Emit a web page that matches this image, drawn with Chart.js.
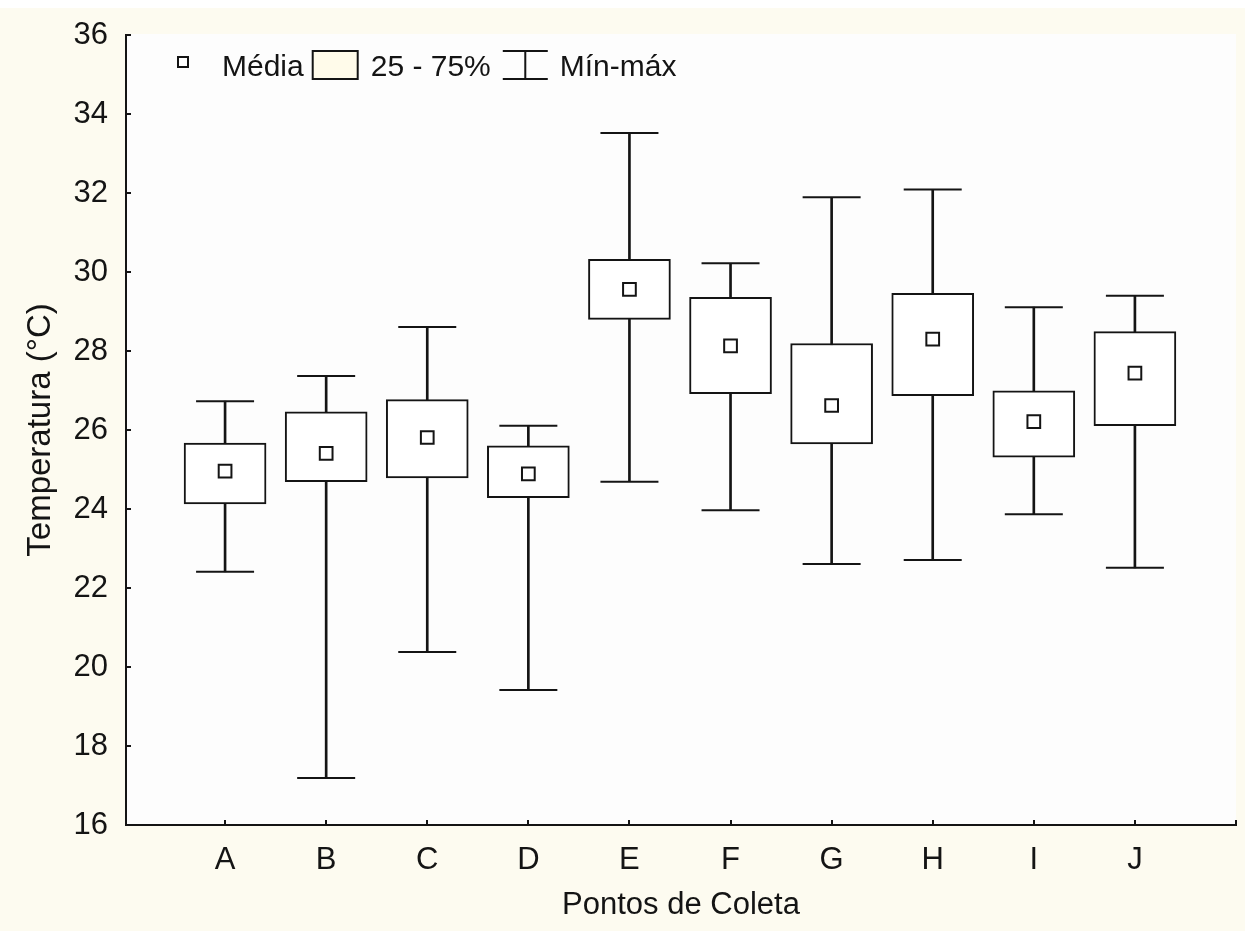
<!DOCTYPE html>
<html><head><meta charset="utf-8">
<script src="https://cdn.jsdelivr.net/npm/chart.js@4.4.1/dist/chart.umd.min.js"></script>
<style>html,body{margin:0;padding:0;background:#fdfbf0;}canvas{display:block;}</style>
</head><body>
<canvas id="c" width="1245" height="931"></canvas>
<script>
// ---- data ----
const categories = ['A','B','C','D','E','F','G','H','I','J'];
const minValues  = [22.41, 17.19, 20.38, 19.42, 24.69, 23.97, 22.61, 22.71, 23.87, 22.51];
const q1Values   = [24.13, 24.69, 24.79, 24.29, 28.80, 26.92, 25.65, 26.87, 25.31, 26.11];
const meanValues = [24.96, 25.41, 25.81, 24.89, 29.56, 28.13, 26.62, 28.30, 26.21, 27.44];
const q3Values   = [25.67, 26.46, 26.77, 25.60, 30.32, 29.36, 28.19, 29.46, 26.99, 28.49];
const maxValues  = [26.73, 27.37, 28.61, 26.11, 33.52, 30.22, 31.89, 32.09, 29.11, 29.40];
const xTickValues = [1,2,3,4,5,6,7,8,9,10,11];
const legendLabels = ['Média', '25 - 75%', 'Mín-máx'];
const xTitle = 'Pontos de Coleta';
const yTitle = 'Temperatura (°C)';

const FONT = "'Liberation Sans', Arial, sans-serif";
const FS = 31;
const INK = '#141414';

const pos = i => i + 1;
const whiskerData = categories.map((c,i)=>({x:pos(i), y:[minValues[i], maxValues[i]]}));
const boxData     = categories.map((c,i)=>({x:pos(i), y:[q1Values[i], q3Values[i]]}));
const minData     = categories.map((c,i)=>({x:pos(i), y:minValues[i]}));
const maxData     = categories.map((c,i)=>({x:pos(i), y:maxValues[i]}));
const meanData    = categories.map((c,i)=>({x:pos(i), y:meanValues[i]}));

const bgPlugin = {
  id:'bg',
  beforeDraw(chart){
    const {ctx, chartArea:a, width, height} = chart;
    ctx.save();
    ctx.fillStyle = '#fdfbf0'; ctx.fillRect(0,0,width,height);
    ctx.fillStyle = '#ffffff'; ctx.fillRect(0,0,width,8);
    ctx.fillStyle = '#fdfdfd'; ctx.fillRect(a.left, a.top-1, a.right-a.left, a.bottom-a.top+1);
    ctx.restore();
  }
};

const innerTicks = {
  id:'innerTicks',
  afterDatasetsDraw(chart){
    const {ctx} = chart; const xs = chart.scales.x, ys = chart.scales.y;
    ctx.save(); ctx.strokeStyle = INK; ctx.lineWidth = 2; ctx.beginPath();
    ys.ticks.forEach((t,i)=>{ const p = Math.round(ys.getPixelForTick(i)); ctx.moveTo(ys.right, p); ctx.lineTo(ys.right+5, p); });
    xs.ticks.forEach((t,i)=>{ const p = Math.round(xs.getPixelForTick(i)); ctx.moveTo(p, xs.top); ctx.lineTo(p, xs.top-5); });
    ctx.stroke(); ctx.restore();
  }
};

const legendPlugin = {
  id:'boxLegend',
  afterDraw(chart){
    const {ctx} = chart;
    ctx.save();
    ctx.font = '30px ' + FONT;
    ctx.fillStyle = INK; ctx.strokeStyle = INK; ctx.lineWidth = 2;
    ctx.textBaseline = 'alphabetic'; ctx.textAlign = 'left';
    const base = 76, top = 51, bot = 79;
    let x = 178;
    ctx.fillStyle = '#ffffff'; ctx.fillRect(x, 57, 10, 10);
    ctx.strokeRect(x, 57, 10, 10);
    ctx.fillStyle = INK;
    x = 222;
    ctx.fillText(legendLabels[0], x, base);
    x += ctx.measureText(legendLabels[0]).width + 9;
    ctx.fillStyle = '#fffbea'; ctx.fillRect(x, top, 45, bot-top);
    ctx.strokeRect(x, top, 45, bot-top);
    ctx.fillStyle = INK;
    x += 45 + 13;
    ctx.fillText(legendLabels[1], x, base);
    x += ctx.measureText(legendLabels[1]).width + 12;
    ctx.beginPath();
    ctx.moveTo(x, top); ctx.lineTo(x+45, top);
    ctx.moveTo(x, bot); ctx.lineTo(x+45, bot);
    ctx.moveTo(x+22.5, top); ctx.lineTo(x+22.5, bot);
    ctx.stroke();
    x += 45 + 12;
    ctx.fillText(legendLabels[2], x, base);
    ctx.restore();
  }
};

new Chart(document.getElementById('c'), {
  type:'bar',
  data:{
    datasets:[
      { type:'bar', label:'whisker', data:whiskerData, grouped:false, barThickness:2,
        backgroundColor:INK, borderWidth:0, order:4 },
      { type:'bar', label:'box', data:boxData, grouped:false, barThickness:82,
        backgroundColor:'#ffffff', borderColor:INK, borderWidth:2, borderSkipped:false, order:3 },
      { type:'line', label:'min', data:minData, showLine:false, pointStyle:'line', pointRadius:29,
        borderColor:INK, borderWidth:2, pointBorderWidth:2, order:2 },
      { type:'line', label:'max', data:maxData, showLine:false, pointStyle:'line', pointRadius:29,
        borderColor:INK, borderWidth:2, pointBorderWidth:2, order:2 },
      { type:'line', label:'mean', data:meanData, showLine:false, pointStyle:'rect', pointRadius:9,
        pointBackgroundColor:'#ffffff', pointBorderColor:INK, pointBorderWidth:2, order:1 }
    ]
  },
  options:{
    responsive:false, devicePixelRatio:1, animation:false,
    layout:{autoPadding:false, padding:{left:0, right:9, top:35, bottom:0}},
    plugins:{legend:{display:false}, tooltip:{enabled:false}},
    scales:{
      x:{ type:'linear', min:0.02, max:11, offset:false,
        afterFit:s=>{ s.height = 106; s.paddingLeft = 0; s.paddingRight = 0; },
        afterBuildTicks:s=>{ s.ticks = xTickValues.map(v=>({value:v})); },
        grid:{display:false}, border:{display:true, color:INK, width:2},
        ticks:{ autoSkip:false, maxRotation:0, padding:9, color:INK,
          font:{family:FONT, size:FS},
          callback:v => (v>=1 && v<=categories.length) ? categories[v-1] : '' },
        title:{display:true, text:xTitle, color:INK, font:{family:FONT, size:FS}, padding:{top:0, bottom:7}}
      },
      y:{ type:'linear', min:16, max:36,
        afterFit:s=>{ s.width = 126; },
        grid:{display:false}, border:{display:true, color:INK, width:2},
        ticks:{ stepSize:2, padding:10, color:INK, font:{family:FONT, size:FS} },
        title:{display:true, text:yTitle, color:INK, font:{family:FONT, size:33}, padding:{top:21, bottom:0}}
      }
    }
  },
  plugins:[bgPlugin, innerTicks, legendPlugin]
});
</script>
</body></html>
